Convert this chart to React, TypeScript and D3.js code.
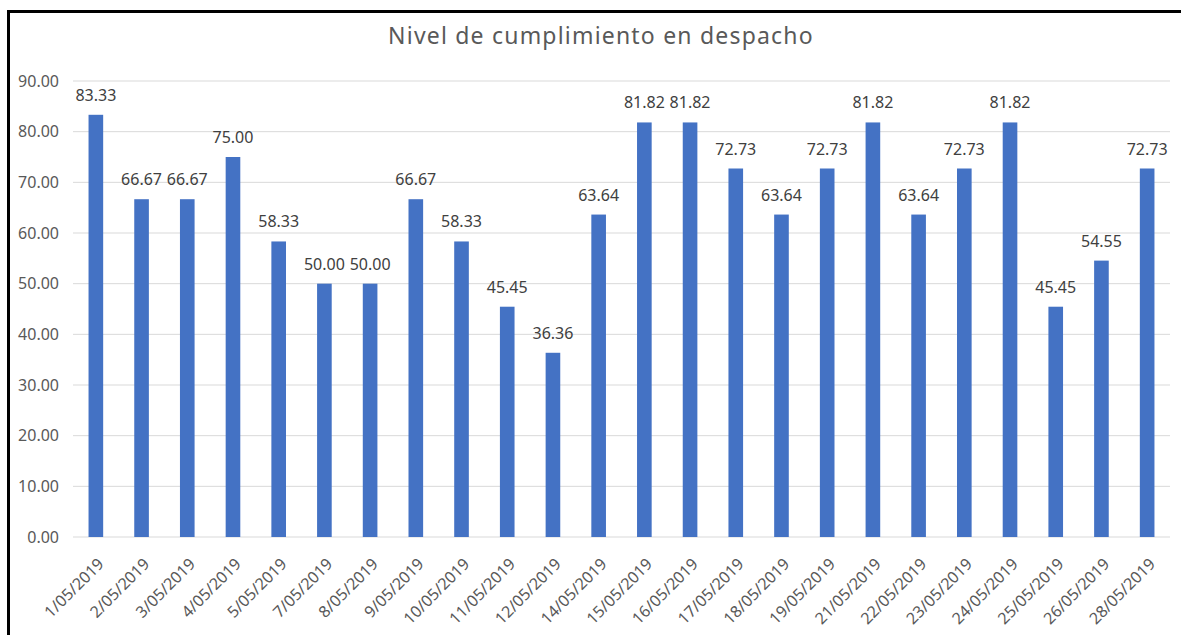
import React, { useEffect, useRef } from 'react';
import * as d3 from 'd3';

const dates = [
  '1/05/2019', '2/05/2019', '3/05/2019', '4/05/2019', '5/05/2019', '7/05/2019',
  '8/05/2019', '9/05/2019', '10/05/2019', '11/05/2019', '12/05/2019', '14/05/2019',
  '15/05/2019', '16/05/2019', '17/05/2019', '18/05/2019', '19/05/2019', '21/05/2019',
  '22/05/2019', '23/05/2019', '24/05/2019', '25/05/2019', '26/05/2019', '28/05/2019'
];
const values = [
  83.33, 66.67, 66.67, 75.0, 58.33, 50.0,
  50.0, 66.67, 58.33, 45.45, 36.36, 63.64,
  81.82, 81.82, 72.73, 63.64, 72.73, 81.82,
  63.64, 72.73, 81.82, 45.45, 54.55, 72.73
];
const yTicks = [0, 10, 20, 30, 40, 50, 60, 70, 80, 90];
const title = 'Nivel de cumplimiento en despacho';

const W = 1181;
const H = 635;
const FONT = '"Noto Sans", "Open Sans", sans-serif';

export default function App() {
  const ref = useRef<SVGSVGElement>(null);

  useEffect(() => {
    if (!ref.current) return;
    const svg = d3.select(ref.current);
    svg.selectAll('*').remove();

    const left = 73;
    const right = 1170;
    const top = 81;
    const bottom = 537;

    const x = d3.scaleBand<string>()
      .domain(dates)
      .range([left, right])
      .paddingInner(0.68)
      .paddingOuter(0.34);

    const y = d3.scaleLinear().domain([0, 90]).range([bottom, top]);

    svg.append('rect')
      .attr('width', W)
      .attr('height', H)
      .attr('fill', '#fff');

    // chart frame (only top and left visible)
    svg.append('rect')
      .attr('x', 8.5)
      .attr('y', 11.5)
      .attr('width', W + 20)
      .attr('height', H + 20)
      .attr('fill', 'none')
      .attr('stroke', '#000')
      .attr('stroke-width', 3);

    svg.append('text')
      .attr('x', 601)
      .attr('y', 44)
      .attr('text-anchor', 'middle')
      .attr('font-family', FONT)
      .attr('font-size', 23)
      .attr('letter-spacing', 1.2)
      .attr('fill', '#595959')
      .text(title);

    // grid
    svg.append('g')
      .selectAll('line')
      .data(yTicks)
      .join('line')
      .attr('x1', left)
      .attr('x2', right)
      .attr('y1', d => y(d))
      .attr('y2', d => y(d))
      .attr('stroke', '#d9d9d9')
      .attr('stroke-width', 1);

    // y labels
    svg.append('g')
      .selectAll('text')
      .data(yTicks)
      .join('text')
      .attr('x', 59)
      .attr('y', d => y(d))
      .attr('dy', '0.35em')
      .attr('text-anchor', 'end')
      .attr('font-family', FONT)
      .attr('font-size', 16)
      .attr('fill', '#595959')
      .text(d => d.toFixed(2));

    // bars
    svg.append('g')
      .selectAll('rect')
      .data(values)
      .join('rect')
      .attr('x', (_, i) => x(dates[i])!)
      .attr('y', d => y(d))
      .attr('width', x.bandwidth())
      .attr('height', d => bottom - y(d))
      .attr('fill', '#4472c4');

    // data labels
    svg.append('g')
      .selectAll('text')
      .data(values)
      .join('text')
      .attr('x', (_, i) => x(dates[i])! + x.bandwidth() / 2)
      .attr('y', d => y(d) - 14)
      .attr('text-anchor', 'middle')
      .attr('font-family', FONT)
      .attr('font-size', 16)
      .attr('fill', '#404040')
      .text(d => d.toFixed(2));

    // x labels
    svg.append('g')
      .selectAll('text')
      .data(dates)
      .join('text')
      .attr('transform', d => `translate(${x(d)! + x.bandwidth() / 2 + 5},${bottom + 24}) rotate(-45)`)
      .attr('dy', '0.35em')
      .attr('text-anchor', 'end')
      .attr('font-family', FONT)
      .attr('font-size', 16)
      .attr('fill', '#595959')
      .text(d => d);
  }, []);

  return (
    <svg
      ref={ref}
      width={W}
      height={H}
      style={{ position: 'absolute', left: 0, top: 0, display: 'block' }}
    />
  );
}
